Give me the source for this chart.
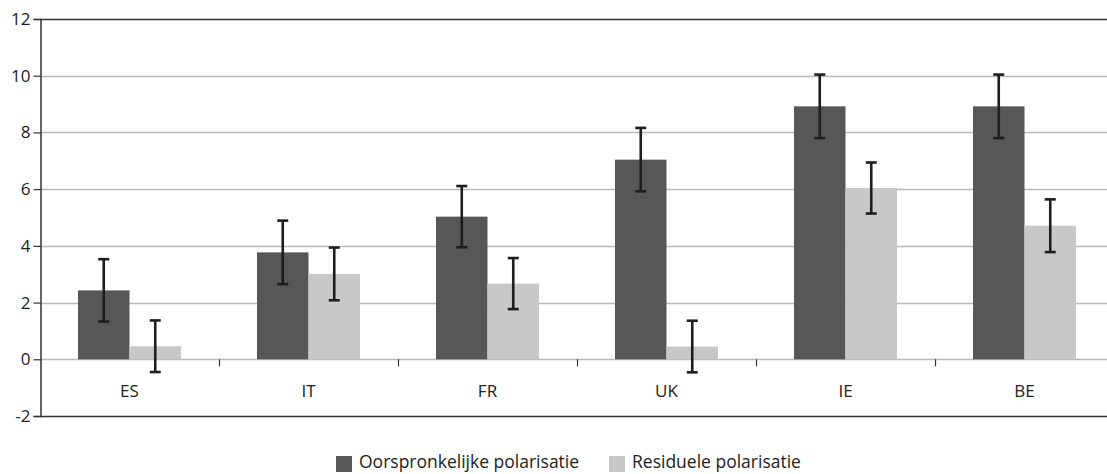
<!DOCTYPE html>
<html>
<head>
<meta charset="utf-8">
<script src="https://cdn.jsdelivr.net/npm/d3@7"></script>
<style>
  html, body { margin: 0; padding: 0; background: #fff; }
  svg { display: block; }
  text { font-family: 'Open Sans', 'DejaVu Sans', sans-serif; fill: #222; }
</style>
</head>
<body>
<div id="main-chart-container"></div>
<script>
const categories = ['ES', 'IT', 'FR', 'UK', 'IE', 'BE']
const seriesNames = ['Oorspronkelijke polarisatie', 'Residuele polarisatie']
const original = [2.43, 3.77, 5.03, 7.04, 8.92, 8.92]
const originalErr = [1.1, 1.12, 1.08, 1.12, 1.12, 1.12]
const residual = [0.46, 3.01, 2.67, 0.45, 6.04, 4.71]
const residualErr = [0.91, 0.93, 0.9, 0.91, 0.9, 0.93]
const yTicks = [-2, 0, 2, 4, 6, 8, 10, 12]
const seriesColors = ['#575757', '#c8c8c8']

const width = 1107
const height = 474
const margin = { left: 40, top: 19, bottom: 58 }
const bandStep = 179
const fontFamily = "'Open Sans', 'DejaVu Sans', sans-serif"

const svg = d3
  .select('#main-chart-container')
  .append('svg')
  .attr('width', width)
  .attr('height', height)

const xScale = d3
  .scaleBand()
  .domain(categories)
  .range([margin.left, margin.left + bandStep * categories.length])

const yScale = d3
  .scaleLinear()
  .domain([-2, 12])
  .range([height - margin.bottom, margin.top])

const barWidth = 51.5
const subScale = d3
  .scaleBand()
  .domain(seriesNames)
  .range([xScale.bandwidth() / 2 - barWidth, xScale.bandwidth() / 2 + barWidth])

// gridlines
yTicks.forEach(t => {
  const dark = t === 12 || t === -2
  svg
    .append('line')
    .attr('x1', margin.left)
    .attr('x2', width)
    .attr('y1', Math.round(yScale(t)) + 0.5)
    .attr('y2', Math.round(yScale(t)) + 0.5)
    .attr('stroke', dark ? '#333' : '#b9b9b9')
    .attr('stroke-width', 1.5)
})

// y axis
const yAxis = d3
  .axisLeft(yScale)
  .tickValues(yTicks)
  .tickFormat(d => String(d))
  .tickSize(7)
  .tickPadding(3)
const yAxisG = svg
  .append('g')
  .attr('transform', `translate(${margin.left + 0.5}, 0)`)
  .call(yAxis)
yAxisG.select('.domain').attr('stroke', '#333').attr('stroke-width', 1.5)
yAxisG.selectAll('.tick line').attr('stroke', '#333').attr('stroke-width', 1.2)
yAxisG
  .selectAll('.tick text')
  .attr('font-size', 17)
  .attr('fill', '#222')
  .style('font-family', fontFamily)

// bars
const data = [
  { name: seriesNames[0], values: original, errs: originalErr, color: seriesColors[0] },
  { name: seriesNames[1], values: residual, errs: residualErr, color: seriesColors[1] },
]

data.forEach(s => {
  svg
    .append('g')
    .selectAll('rect')
    .data(categories)
    .join('rect')
    .attr('x', c => xScale(c) + subScale(s.name))
    .attr('width', subScale.bandwidth())
    .attr('y', (c, i) => yScale(Math.max(0, s.values[i])))
    .attr('height', (c, i) => Math.abs(yScale(s.values[i]) - yScale(0)))
    .attr('fill', s.color)
})

// x axis at zero with ticks between categories
const boundaries = categories.slice(1).map(c => xScale(c))
svg
  .append('g')
  .selectAll('line')
  .data(boundaries)
  .join('line')
  .attr('x1', d => Math.round(d) + 0.5)
  .attr('x2', d => Math.round(d) + 0.5)
  .attr('y1', yScale(0))
  .attr('y2', yScale(0) + 7)
  .attr('stroke', '#333')
  .attr('stroke-width', 1.2)

svg
  .append('g')
  .selectAll('text')
  .data(categories)
  .join('text')
  .attr('x', c => xScale(c) + xScale.bandwidth() / 2)
  .attr('y', yScale(0) + 38)
  .attr('text-anchor', 'middle')
  .attr('font-size', 17)
  .text(c => c)

// error bars
const capHalf = 5.5
data.forEach(s => {
  const g = svg.append('g').attr('stroke', '#1e1e1e').attr('stroke-width', 2.6)
  categories.forEach((c, i) => {
    const cx = xScale(c) + subScale(s.name) + subScale.bandwidth() / 2
    const hi = yScale(s.values[i] + s.errs[i])
    const lo = yScale(s.values[i] - s.errs[i])
    g.append('line').attr('x1', cx).attr('x2', cx).attr('y1', hi).attr('y2', lo)
    g.append('line').attr('x1', cx - capHalf).attr('x2', cx + capHalf).attr('y1', hi).attr('y2', hi)
    g.append('line').attr('x1', cx - capHalf).attr('x2', cx + capHalf).attr('y1', lo).attr('y2', lo)
  })
})

// legend
const legendItems = [
  { name: seriesNames[0], color: seriesColors[0], x: 336 },
  { name: seriesNames[1], color: seriesColors[1], x: 609 },
]
legendItems.forEach(item => {
  svg
    .append('rect')
    .attr('x', item.x)
    .attr('y', 456)
    .attr('width', 16)
    .attr('height', 16)
    .attr('fill', item.color)
  svg
    .append('text')
    .attr('x', item.x + 23)
    .attr('y', 468)
    .attr('font-size', 17.5)
    .text(item.name)
})
</script>
</body>
</html>
